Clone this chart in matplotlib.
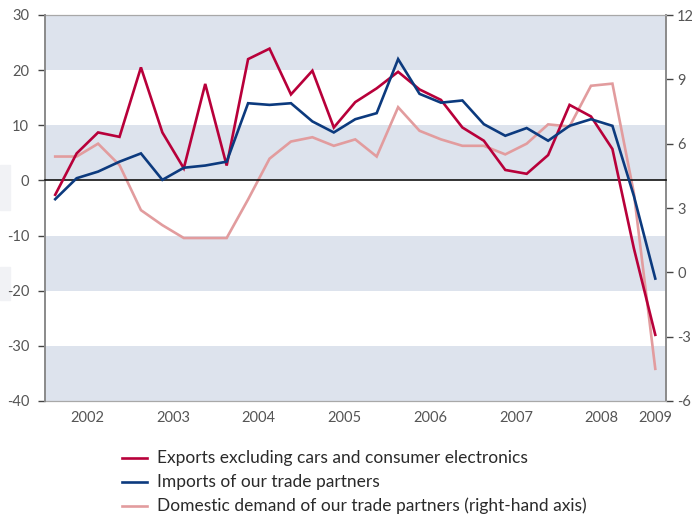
import matplotlib
matplotlib.use("Agg")
import matplotlib.pyplot as plt
from matplotlib.lines import Line2D
from matplotlib.patches import Rectangle
import matplotlib.transforms as mtransforms
import numpy as np

plt.rcParams['font.family'] = ['Lato', 'DejaVu Sans']
plt.rcParams['axes.unicode_minus'] = False

# Quarterly data, 2002 Q1 .. 2009 Q1 (annual % change)
years = [2002, 2003, 2004, 2005, 2006, 2007, 2008, 2009]
first_year = 2002
exports = [-2.6, 4.9, 8.7, 7.9, 20.5, 8.7, 2.2, 17.5, 2.7, 22.0, 23.9, 15.6,
           19.9, 9.6, 14.2, 16.7, 19.7, 16.5, 14.6, 9.6, 7.2, 1.9, 1.2, 4.6,
           13.7, 11.6, 5.7, -12.3, -28.0]
imports = [-3.4, 0.4, 1.6, 3.4, 4.9, 0.1, 2.3, 2.7, 3.4, 14.0, 13.7, 14.0,
           10.7, 8.7, 11.1, 12.2, 22.0, 15.7, 14.1, 14.5, 10.2, 8.1, 9.5, 7.2,
           9.9, 11.1, 9.9, -2.8, -17.8]
domestic = [5.4, 5.4, 6.0, 5.0, 2.9, 2.2, 1.6, 1.6, 1.6, 3.4, 5.3, 6.1,
            6.3, 5.9, 6.2, 5.4, 7.7, 6.6, 6.2, 5.9, 5.9, 5.5, 6.0, 6.9,
            6.8, 8.7, 8.8, 3.7, -4.5]
labels = ["Exports excluding cars and consumer electronics",
          "Imports of our trade partners",
          "Domestic demand of our trade partners (right-hand axis)"]

left_ticks = [30, 20, 10, 0, -10, -20, -30, -40]
right_ticks = [12, 9, 6, 3, 0, -3, -6]

RED = "#b8003a"
BLUE = "#0c3a7e"
PINK = "#e29c9e"
BAND = "#dde3ed"
GREY = "#8a8a8a"
TXT = "#555555"

W, H = 692, 516
fig = plt.figure(figsize=(W / 100, H / 100), dpi=100)

# faint grey shapes at the left page edge
for (x0, y0, w, h) in [(0, 165, 10, 45), (0, 267, 10, 33)]:
    fig.patches.append(Rectangle((x0 / W, 1 - (y0 + h) / H), w / W, h / H,
                                 transform=fig.transFigure, color="#f1f2f5",
                                 zorder=-5))

L, R, T, B = 44.5, 666, 15, 401
ax2 = fig.add_axes([L / W, 1 - B / H, (R - L) / W, (B - T) / H])
ax = ax2.twinx()          # left-hand scale drawn on top
ax.yaxis.tick_left()
ax.yaxis.set_label_position("left")
ax2.yaxis.tick_right()

x = first_year + (np.arange(len(exports)) + 0.5) / 4.0

ax.set_xlim(2002, 2009.25)
ax2.set_xlim(2002, 2009.25)
ax.set_ylim(-40, 30)
ax2.set_ylim(-6, 12)

# horizontal shaded bands (left-axis units), underneath all lines
band_tf = mtransforms.blended_transform_factory(ax2.transAxes, ax.transData)
for lo in (20, 0, -20, -40):
    ax2.add_patch(Rectangle((0, lo), 1, 10, transform=band_tf, color=BAND,
                            lw=0, zorder=0))

ax2.plot(x, domestic, color=PINK, lw=1.9, zorder=2, solid_joinstyle='miter')
ax.plot(x, exports, color=RED, lw=1.9, zorder=3, solid_joinstyle='miter')
ax.plot(x, imports, color=BLUE, lw=1.9, zorder=3, solid_joinstyle='miter')
ax.patch.set_visible(False)

# spines
for a in (ax, ax2):
    for s in a.spines.values():
        s.set_visible(False)
ax2.spines["top"].set_visible(True)
ax2.spines["top"].set_color("#a8a8a8"); ax2.spines["top"].set_linewidth(0.9)
ax2.spines["bottom"].set_visible(True)
ax2.spines["bottom"].set_color("#a8a8a8"); ax2.spines["bottom"].set_linewidth(0.9)
ax2.spines["right"].set_visible(True)
ax2.spines["right"].set_color(GREY); ax2.spines["right"].set_linewidth(1.4)
ax.spines["left"].set_visible(True)
ax.spines["left"].set_color(GREY); ax.spines["left"].set_linewidth(1.4)
ax.spines["bottom"].set_visible(True)
ax.spines["bottom"].set_position(("data", 0))
ax.spines["bottom"].set_color("#111111")
ax.spines["bottom"].set_linewidth(1.2)

ax.set_yticks(left_ticks)
ax.set_yticklabels([str(v) for v in left_ticks])
ax2.set_yticks(right_ticks)
ax2.set_yticklabels([str(v) for v in right_ticks])
ax.tick_params(axis='y', direction='out', length=5, width=1.0, color="#444444",
               pad=6, labelsize=10.5, labelcolor=TXT, left=True, right=False,
               labelleft=True, labelright=False)
ax2.tick_params(axis='y', direction='out', length=5, width=1.0, color="#444444",
                pad=3, labelsize=10.5, labelcolor=TXT, left=False, right=True,
                labelleft=False, labelright=True)

ax.set_xticks(years[1:])
ax.set_xticklabels([])
ax.tick_params(axis='x', direction='out', length=4, width=1.0, color="#111111")
ax2.tick_params(axis='x', bottom=False, labelbottom=False)

trans = mtransforms.blended_transform_factory(ax.transData, ax.transAxes)
for yr in years:
    xc = yr + 0.5 if yr < 2009 else 2009.125
    ax.text(xc, -0.044, str(yr), transform=trans, ha='center', va='center',
            fontsize=10.5, color=TXT)

# legend
legend_y = [458, 482, 506]
for col, lab, yy in zip([RED, BLUE, PINK], labels, legend_y):
    fig.lines.append(Line2D([122 / W, 147 / W], [1 - yy / H, 1 - yy / H],
                            transform=fig.transFigure, color=col, lw=1.9))
    fig.text(157 / W, 1 - yy / H, lab, ha='left', va='center',
             fontsize=12.5, color="#2a2a2a")

fig.savefig("out.png", dpi=100)
